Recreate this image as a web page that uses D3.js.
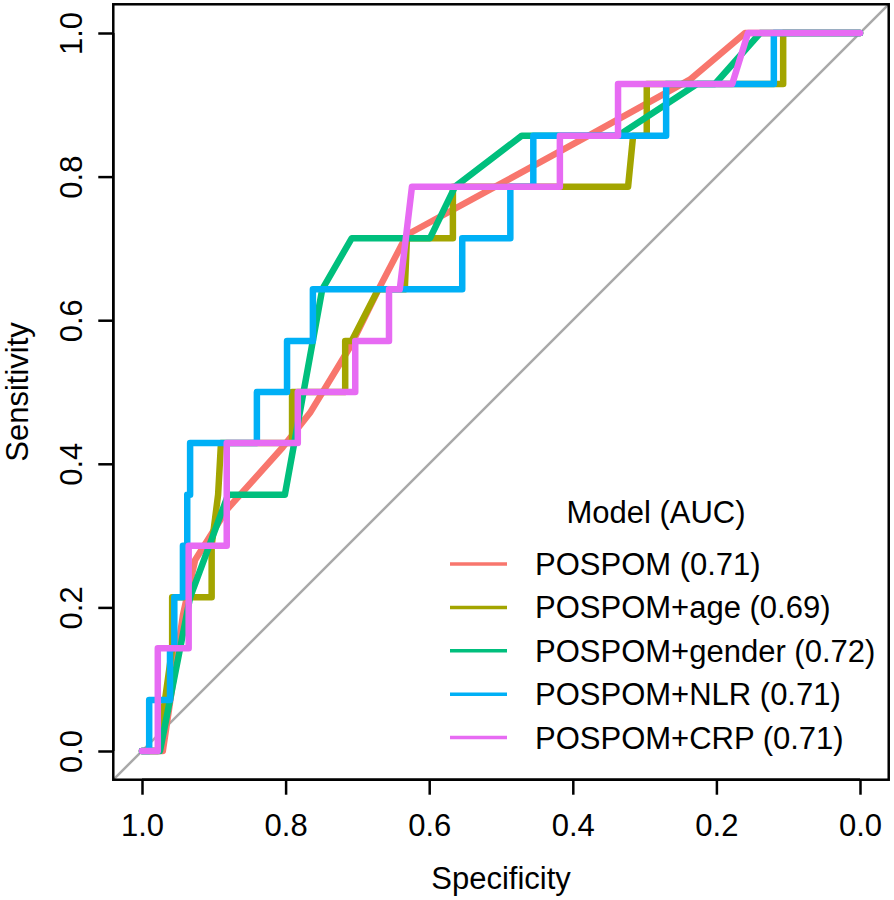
<!DOCTYPE html>
<html>
<head>
<meta charset="utf-8">
<script src="https://cdn.jsdelivr.net/npm/d3@7"></script>
<style>
  html, body { margin: 0; padding: 0; background: #fff; }
  svg text { font-family: "Liberation Sans", Arial, sans-serif; fill: #000; }
</style>
</head>
<body>
<svg id="chart" width="894" height="900"></svg>
<script>
// ---- data ----
const models = ["POSPOM", "POSPOM+age", "POSPOM+gender", "POSPOM+NLR", "POSPOM+CRP"];
const aucs = ["0.71", "0.69", "0.72", "0.71", "0.71"];
const colors = ["#F8766D", "#A3A500", "#00BF7D", "#00B0F6", "#E76BF3"];

const specPOSPOM = [1, 0.971, 0.943, 0.926, 0.882, 0.804, 0.766, 0.710, 0.669, 0.631, 0.506, 0.376, 0.237, 0.160, 0];
const sensPOSPOM = [0, 0, 0.189, 0.266, 0.336, 0.423, 0.471, 0.563, 0.646, 0.719, 0.787, 0.858, 0.935, 1, 1];

const specAge = [1, 0.978, 0.968, 0.958, 0.958, 0.903, 0.903, 0.894, 0.890, 0.791, 0.791, 0.717, 0.717, 0.708, 0.671, 0.634, 0.631, 0.567, 0.567, 0.323, 0.316, 0.297, 0.297, 0.107, 0.107, 0];
const sensAge = [0, 0, 0.071, 0.143, 0.214, 0.214, 0.286, 0.357, 0.429, 0.429, 0.5, 0.5, 0.571, 0.571, 0.643, 0.643, 0.714, 0.714, 0.786, 0.786, 0.857, 0.857, 0.929, 0.929, 1, 1];

const specGender = [1, 0.975, 0.933, 0.880, 0.801, 0.749, 0.708, 0.599, 0.564, 0.471, 0.337, 0.227, 0.202, 0.139, 0];
const sensGender = [0, 0, 0.214, 0.357, 0.357, 0.643, 0.714, 0.714, 0.786, 0.857, 0.857, 0.929, 0.929, 1, 1];

const specNLR = [1, 0.990, 0.990, 0.961, 0.961, 0.955, 0.955, 0.943, 0.943, 0.937, 0.937, 0.933, 0.933, 0.840, 0.840, 0.798, 0.798, 0.762, 0.762, 0.554, 0.554, 0.487, 0.487, 0.455, 0.455, 0.270, 0.270, 0.120, 0.120, 0];
const sensNLR = [0, 0, 0.071, 0.071, 0.143, 0.143, 0.214, 0.214, 0.286, 0.286, 0.357, 0.357, 0.429, 0.429, 0.5, 0.5, 0.571, 0.571, 0.643, 0.643, 0.714, 0.714, 0.786, 0.786, 0.857, 0.857, 0.929, 0.929, 1, 1];

const specCRP = [1, 0.978, 0.978, 0.935, 0.935, 0.882, 0.882, 0.783, 0.783, 0.703, 0.703, 0.656, 0.656, 0.641, 0.624, 0.418, 0.418, 0.337, 0.337, 0.178, 0.156, 0];
const sensCRP = [0, 0, 0.143, 0.143, 0.286, 0.286, 0.429, 0.429, 0.5, 0.5, 0.571, 0.571, 0.643, 0.643, 0.786, 0.786, 0.857, 0.857, 0.929, 0.929, 1, 1];

const tickValues = [1.0, 0.8, 0.6, 0.4, 0.2, 0.0];
const tickLabels = ["1.0", "0.8", "0.6", "0.4", "0.2", "0.0"];
const xTitle = "Specificity";
const yTitle = "Sensitivity";
const legendTitle = "Model (AUC)";

const curves = [
  [specPOSPOM, sensPOSPOM],
  [specAge, sensAge],
  [specGender, sensGender],
  [specNLR, sensNLR],
  [specCRP, sensCRP]
];

// ---- layout ----
const svg = d3.select("#chart");
const x = d3.scaleLinear().domain([1, 0]).range([142, 860]);
const y = d3.scaleLinear().domain([0, 1]).range([751, 33]);
const ext = 0.04;
const bx0 = x(1 + ext), bx1 = x(-ext), by0 = y(1 + ext), by1 = y(-ext);
const fontSize = 31;

svg.append("defs").append("clipPath").attr("id", "clip")
  .append("rect").attr("x", bx0).attr("y", by0)
  .attr("width", bx1 - bx0).attr("height", by1 - by0);

// diagonal
svg.append("line")
  .attr("clip-path", "url(#clip)")
  .attr("x1", x(1 + ext)).attr("y1", y(-ext))
  .attr("x2", x(-ext)).attr("y2", y(1 + ext))
  .attr("stroke", "#A9A9A9").attr("stroke-width", 2.5);

// curves
const line = d3.line().x(d => x(d[0])).y(d => y(d[1]));
const gCurves = svg.append("g").attr("clip-path", "url(#clip)");
curves.forEach((c, i) => {
  const pts = c[0].map((s, j) => [s, c[1][j]]);
  gCurves.append("path")
    .attr("d", line(pts))
    .attr("fill", "none")
    .attr("stroke", colors[i])
    .attr("stroke-width", 6.5)
    .attr("stroke-linejoin", "round")
    .attr("stroke-linecap", "round");
});

// box
svg.append("rect")
  .attr("x", bx0).attr("y", by0)
  .attr("width", bx1 - bx0).attr("height", by1 - by0)
  .attr("fill", "none").attr("stroke", "#000").attr("stroke-width", 2.5);

// x axis
const xAxis = d3.axisBottom(x).tickValues(tickValues)
  .tickFormat((d, i) => tickLabels[i]).tickSize(15).tickPadding(6).tickSizeOuter(0);
const gx = svg.append("g").attr("transform", `translate(0,${by1})`).call(xAxis);
gx.select(".domain").attr("stroke", "#000").attr("stroke-width", 2.5)
  .attr("d", `M${x(1)},0H${x(0)}`);
gx.selectAll(".tick line").attr("stroke", "#000").attr("stroke-width", 2.5);
gx.selectAll(".tick text")
  .attr("y", 56).attr("dy", 0)
  .style("font-size", fontSize + "px")
  .style("font-family", "'Liberation Sans', Arial, sans-serif")
  .attr("fill", "#000");

// y axis
const yAxis = d3.axisLeft(y).tickValues(tickValues)
  .tickFormat(d => d.toFixed(1)).tickSize(15).tickSizeOuter(0);
const gy = svg.append("g").attr("transform", `translate(${bx0},0)`).call(yAxis);
gy.select(".domain").attr("stroke", "#000").attr("stroke-width", 2.5)
  .attr("d", `M0,${y(0)}V${y(1)}`);
gy.selectAll(".tick line").attr("stroke", "#000").attr("stroke-width", 2.5);
gy.selectAll(".tick text")
  .attr("transform", "rotate(-90)")
  .attr("x", 0).attr("y", -31).attr("dy", 0)
  .attr("text-anchor", "middle")
  .style("font-size", fontSize + "px")
  .style("font-family", "'Liberation Sans', Arial, sans-serif")
  .attr("fill", "#000");

// axis titles
svg.append("text")
  .attr("x", (x(1) + x(0)) / 2).attr("y", 889)
  .attr("text-anchor", "middle").style("font-size", fontSize + "px")
  .text(xTitle);
svg.append("text")
  .attr("transform", `translate(28,${(y(0) + y(1)) / 2}) rotate(-90)`)
  .attr("text-anchor", "middle").style("font-size", fontSize + "px")
  .text(yTitle);

// legend
const lg = svg.append("g");
lg.append("text")
  .attr("x", 656).attr("y", 523)
  .attr("text-anchor", "middle").style("font-size", fontSize + "px")
  .text(legendTitle);
models.forEach((m, i) => {
  const cy = 564 + i * 43.4;
  lg.append("line")
    .attr("x1", 450).attr("x2", 507).attr("y1", cy).attr("y2", cy)
    .attr("stroke", colors[i]).attr("stroke-width", 3.5);
  lg.append("text")
    .attr("x", 535).attr("y", cy + 11)
    .style("font-size", fontSize + "px")
    .text(`${m} (${aucs[i]})`);
});
</script>
</body>
</html>
